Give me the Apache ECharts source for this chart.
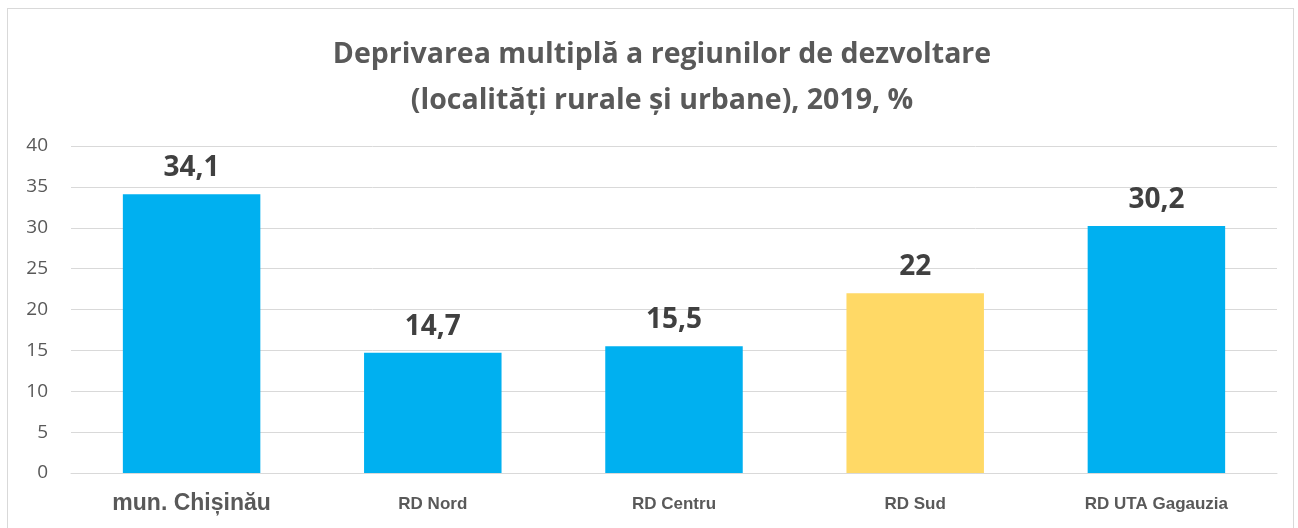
<!DOCTYPE html>
<html>
<head>
<meta charset="utf-8">
<script src="https://cdn.jsdelivr.net/npm/echarts@6/dist/echarts.min.js"></script>
<style>
  html, body { margin: 0; padding: 0; background: #fff; }
  #frame {
    position: absolute;
    left: 7px;
    top: 8px;
    width: 1287px;
    height: 530px;
    border: 1px solid #d9d9d9;
    box-sizing: border-box;
  }
  #chart { width: 1298px; height: 528px; }
</style>
</head>
<body>
<div id="frame"></div>
<div id="chart"></div>
<script>
const categories = ['mun. Chișinău', 'RD Nord', 'RD Centru', 'RD Sud', 'RD UTA Gagauzia']
const values = [34.1, 14.7, 15.5, 22, 30.2]
const barColors = ['#00B0F0', '#00B0F0', '#00B0F0', '#FFD966', '#00B0F0']
const titleLines = ['Deprivarea multiplă a regiunilor de dezvoltare', '(localități rurale și urbane), 2019, %']

const chart = echarts.init(document.getElementById('chart'))

chart.setOption({
  animation: false,
  title: {
    text: titleLines.join('\n'),
    left: 657,
    top: 27,
    textAlign: 'center',
    textStyle: {
      fontFamily: 'Open Sans',
      fontWeight: 'bold',
      fontSize: 28.5,
      lineHeight: 46,
      color: '#595959',
    },
  },
  grid: {
    left: 71,
    right: 21,
    top: 146,
    bottom: 55,
  },
  xAxis: {
    type: 'category',
    data: categories,
    axisLine: { lineStyle: { color: '#d9d9d9', width: 1 } },
    axisTick: { show: false },
    axisLabel: {
      margin: 18,
      color: '#595959',
      // the first label is set larger in the original
      formatter: (v, i) => (i === 0 ? `{big|${v}}` : `{small|${v}}`),
      rich: {
        big: {
          fontFamily: 'Liberation Sans',
          fontWeight: 'bold',
          fontSize: 23,
          lineHeight: 26,
          color: '#595959',
        },
        small: {
          fontFamily: 'Liberation Sans',
          fontWeight: 'bold',
          fontSize: 17,
          lineHeight: 26,
          color: '#595959',
        },
      },
    },
  },
  yAxis: {
    type: 'value',
    min: 0,
    max: 40,
    interval: 5,
    axisLine: { show: false },
    axisTick: { show: false },
    splitLine: { lineStyle: { color: '#d9d9d9', width: 1 } },
    axisLabel: {
      margin: 23,
      fontFamily: 'Open Sans',
      fontSize: 19,
      color: '#595959',
    },
  },
  series: [
    {
      type: 'bar',
      barWidth: '57%',
      data: values.map((v, i) => ({
        value: v,
        itemStyle: { color: barColors[i] },
      })),
      label: {
        show: true,
        position: 'top',
        distance: 12,
        fontFamily: 'Open Sans',
        fontWeight: 'bold',
        fontSize: 28,
        color: '#404040',
        formatter: (p) => String(p.value).replace('.', ','),
      },
    },
  ],
})
</script>
</body>
</html>
